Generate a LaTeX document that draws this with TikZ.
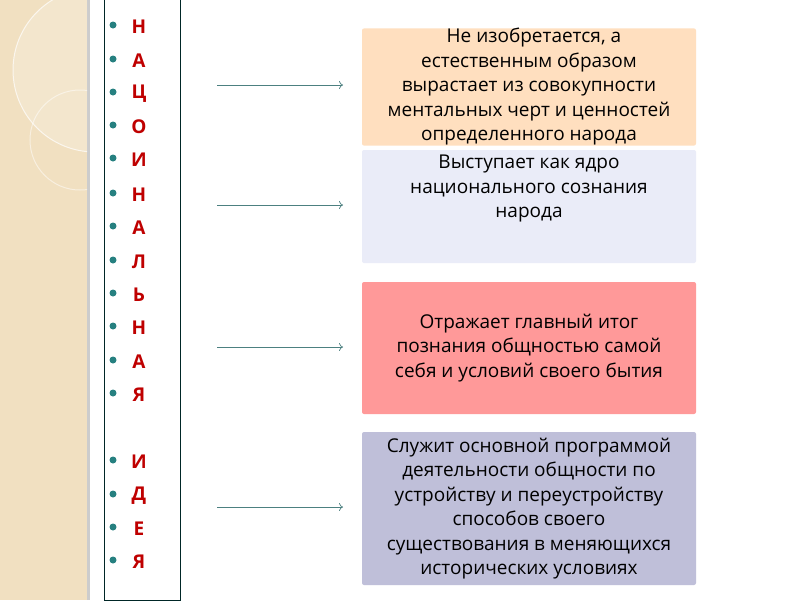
\documentclass[tikz,border=0pt]{standalone}
\usepackage{fontspec}
\usetikzlibrary{arrows.meta}
\setmainfont{Open Sans}
\begin{document}
\begin{tikzpicture}[x=1pt,y=-1pt,
  bx/.style={rounded corners=2pt,minimum width=334pt,align=center,font=\fontsize{19}{24.5}\selectfont,inner sep=0pt},
  arr/.style={draw=gray!60!teal,line width=0.7pt,-{To[length=4pt,width=8pt]}},
  let/.style={text=red!75!black,font=\bfseries\fontsize{19}{19}\selectfont,anchor=center},
  dot/.style={circle,fill=teal!70!gray,inner sep=0pt,minimum size=7pt}]
\useasboundingbox (0,0) rectangle (800,600);
\fill[white] (0,0) rectangle (800,600);
\fill[orange!20!yellow!25!brown!30!white] (0,0) rectangle (87,600);
\fill[gray!40] (87,0) rectangle (90,600);
\begin{scope}
\clip (0,0) rectangle (87,600);
\fill[white,opacity=0.2] (95,70) circle (82);
\draw[white,line width=1pt,opacity=0.7] (95,70) circle (82);
\draw[white,line width=1pt,opacity=0.5] (80,140) circle (50);
\end{scope}
\draw[teal!30!black,line width=0.8pt] (104,-1) rectangle (180,600);
\foreach \y/\l [count=\i] in {27/Н,61/А,94/Ц,127/О,160/И,195/Н,228/А,262/Л,295/Ь,328/Н,362/А,395/Я,462/И,496/Д,529/Е,562/Я}{
  \node[dot] (d\i) at (113,\y-2) {};
  \node[let] (l\i) at (139,\y) {\l};
}
\node[bx,fill=orange!25,minimum height=102pt] (b1) at (529,87) {\ \ Не изобретается, а\\естественным образом\\вырастает из совокупности\\ментальных черт и ценностей\\определенного народа};
\node[bx,fill=cyan!35!blue!8!white,minimum height=113pt] (b2) at (529,206.5) {Выступает как ядро\\национального сознания\\народа\\[16pt]};
\node[bx,fill=red!40,minimum height=132pt] (b3) at (529,348) {Отражает главный итог\\познания общностью самой\\себя и условий своего бытия};
\node[bx,fill=blue!25!gray!40,minimum height=153pt] (b4) at (529,508.5) {Служит основной программой\\деятельности общности по\\устройству и переустройству\\способов своего\\существования в меняющихся\\исторических условиях};
\coordinate (s1) at (217,85); \coordinate (e1) at (343,85);
\coordinate (s2) at (217,205); \coordinate (e2) at (343,205);
\coordinate (s3) at (217,347); \coordinate (e3) at (343,347);
\coordinate (s4) at (217,507); \coordinate (e4) at (343,507);
\foreach \i in {1,...,4}{\draw[arr] (s\i) -- (e\i);}
\end{tikzpicture}
\end{document}
